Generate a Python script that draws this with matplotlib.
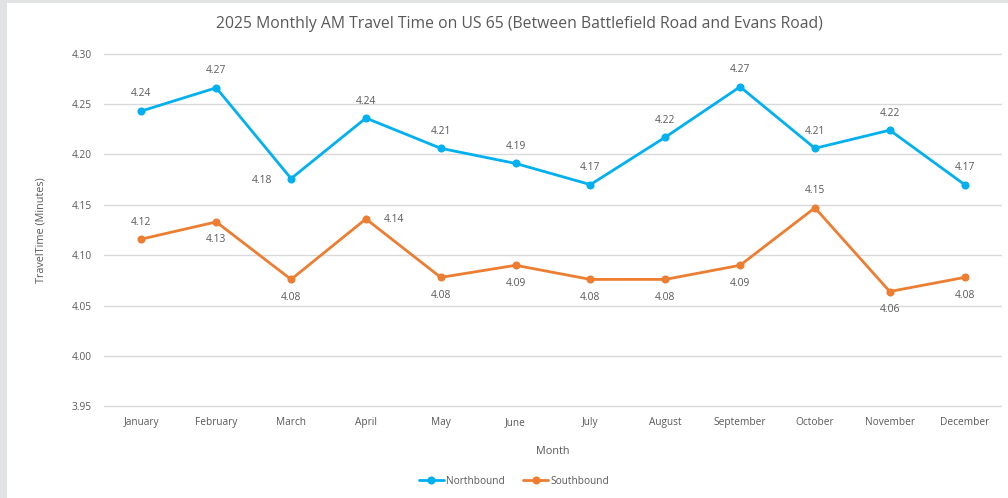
import matplotlib.pyplot as plt
from matplotlib.patches import Rectangle

# chart values
months = ["January", "February", "March", "April", "May", "June", "July",
          "August", "September", "October", "November", "December"]
northbound = [4.243, 4.266, 4.176, 4.236, 4.206, 4.191, 4.170, 4.217,
              4.267, 4.206, 4.224, 4.170]
southbound = [4.116, 4.133, 4.076, 4.136, 4.078, 4.090, 4.076, 4.076,
              4.090, 4.147, 4.064, 4.078]
yticks = [3.95, 4.00, 4.05, 4.10, 4.15, 4.20, 4.25, 4.30]

# where each data label sits relative to its point
nb_pos = ["above", "above", "left", "above", "above", "above", "above",
          "above", "above", "above", "above", "above"]
sb_pos = ["above", "below", "below", "right", "below", "below", "below",
          "below", "below", "above", "below", "below"]

TXT = "#595959"
plt.rcParams["font.family"] = ["Open Sans", "DejaVu Sans"]

fig = plt.figure(figsize=(10.08, 4.98), dpi=100)
fig.patch.set_facecolor("#e1e2e4")
fig.patches.append(Rectangle((7 / 1008, 0), 1, 1 - 3 / 498, transform=fig.transFigure,
                             facecolor="white", edgecolor="none", zorder=-5))

ax = fig.add_axes([104 / 1008, 1 - 408 / 498, 898 / 1008, 356 / 498])
ax.set_facecolor("none")
ax.set_zorder(2)

x = range(len(months))
offsets = {"above": (0, 17), "below": (0, -18), "left": (-29, -2), "right": (28, -1)}


def draw(values, color, positions, label):
    ax.plot(x, values, color=color, lw=2.0, marker="o", ms=4.8, label=label,
            solid_capstyle="round", zorder=3)
    for xi, v, p in zip(x, values, positions):
        ax.annotate(f"{v:.2f}", (xi, v), textcoords="offset pixels",
                    xytext=offsets[p], ha="center", va="center",
                    fontsize=7.4, color=TXT)


draw(northbound, "#00b0f0", nb_pos, "Northbound")
draw(southbound, "#ed7d31", sb_pos, "Southbound")

ax.set_xlim(-0.5, len(months) - 0.5)
ax.set_ylim(3.9485, 4.3015)
ax.set_yticks(yticks)
ax.set_yticklabels([f"{t:.2f}" for t in yticks])
ax.set_xticks(list(x))
ax.set_xticklabels(months)
ax.grid(axis="y", color="#d9d9d9", lw=1.0)
ax.set_axisbelow(True)
for s in ax.spines.values():
    s.set_visible(False)
ax.tick_params(length=0, labelsize=7.3, labelcolor=TXT)
ax.tick_params(axis="x", pad=6.5)
ax.tick_params(axis="y", pad=9)

ax.set_xlabel("Month", fontsize=7.8, color=TXT, labelpad=13)
ax.set_ylabel("TravelTime (Minutes)", fontsize=7.8, color=TXT, labelpad=18)

fig.text(519 / 1008, 1 - 24 / 498,
         "2025 Monthly AM Travel Time on US 65 (Between Battlefield Road and Evans Road)",
         ha="center", va="center", fontsize=11.35, color=TXT)

fig.legend(loc="center", bbox_to_anchor=(514 / 1008, 1 - 481 / 498), ncol=2,
           frameon=False, fontsize=7.3, labelcolor=TXT, handlelength=2.5,
           handletextpad=0.2, columnspacing=1.8)

fig.savefig("out.png", dpi=100)
